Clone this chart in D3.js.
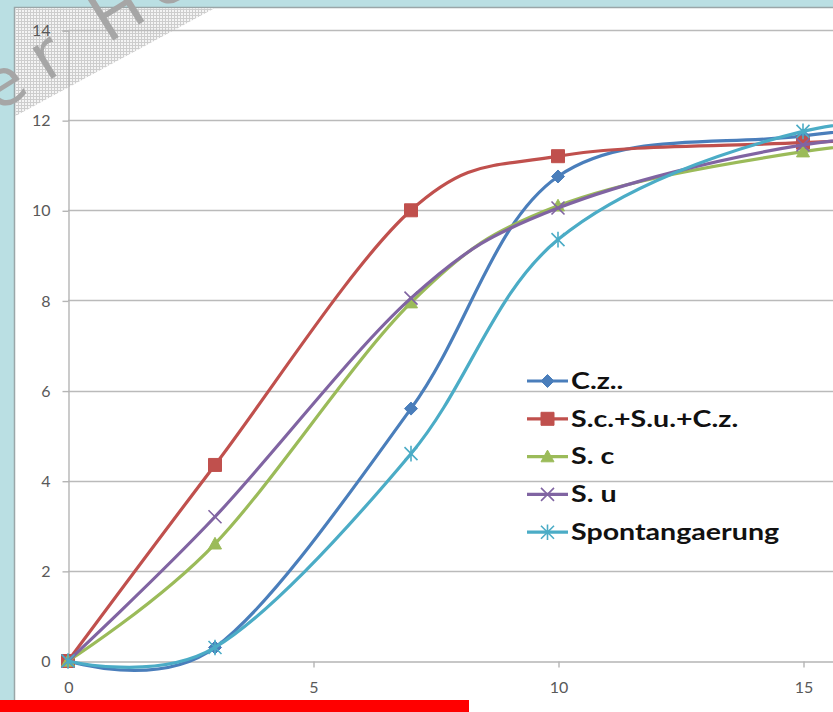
<!DOCTYPE html>
<html>
<head>
<meta charset="utf-8">
<script src="https://cdn.jsdelivr.net/npm/d3@7"></script>
<style>
  html, body { margin: 0; padding: 0; background: #badfe3; overflow: hidden; }
  svg { display: block; }
</style>
</head>
<body>
<svg id="chart" width="833" height="712"></svg>
<script>
// Fermentation time (days) and measured values per culture
const days = [0, 3, 7, 10, 15, 20];
const seriesNames = ["C.z..", "S.c.+S.u.+C.z.", "S. c", "S. u", "Spontangaerung"];
const czValues    = [0, 0.3, 5.6, 10.75, 11.65, 12.15];
const mixValues   = [0, 4.35, 10.0, 11.2, 11.5, 11.7];
const scValues    = [0, 2.6, 7.95, 10.1, 11.3, 11.75];
const suValues    = [0, 3.2, 8.05, 10.05, 11.45, 11.8];
const spontValues = [0, 0.3, 4.6, 9.35, 11.75, 12.05];
const yTicks = [0, 2, 4, 6, 8, 10, 12, 14];
const xTicks = [0, 5, 10, 15];

const seriesValues = [czValues, mixValues, scValues, suValues, spontValues];
const colors = ["#4a7ebb", "#c0504d", "#9bbb59", "#8064a2", "#4bacc6"];
const markers = ["diamond", "square", "triangle", "cross", "star"];

const svg = d3.select("#chart");
const W = 833, H = 712;
const labelFont = "Lato, 'Open Sans', sans-serif";

// white chart panel on the tinted page
svg.append("rect")
  .attr("x", 14.5).attr("y", 7.5)
  .attr("width", W).attr("height", H)
  .attr("fill", "#ffffff")
  .attr("stroke", "#9aa6a8").attr("stroke-width", 1.5);

// fine halftone fill in the upper-left corner
const defs = svg.append("defs");
const pat = defs.append("pattern")
  .attr("id", "mesh").attr("width", 3).attr("height", 3)
  .attr("patternUnits", "userSpaceOnUse");
pat.append("rect").attr("width", 3).attr("height", 3).attr("fill", "#f4f4f4");
pat.append("path").attr("d", "M0,0.5H3M0.5,0V3")
  .attr("stroke", "#cdcdcd").attr("stroke-width", 1);
svg.append("path")
  .attr("d", "M15.5,8.5L214,8.5L15.5,116Z")
  .attr("fill", "url(#mesh)");

const x = d3.scaleLinear().domain([0, 20]).range([68, 68 + 20 * 49]);
const y = d3.scaleLinear().domain([0, 14]).range([661, 30]);

// horizontal gridlines
svg.append("g").selectAll("line")
  .data(yTicks.filter(d => d > 0))
  .join("line")
  .attr("x1", x(0)).attr("x2", W)
  .attr("y1", d => Math.round(y(d)) + 0.5).attr("y2", d => Math.round(y(d)) + 0.5)
  .attr("stroke", "#bababa").attr("stroke-width", 1.4);

// y axis
const yAxis = d3.axisLeft(y).tickValues(yTicks).tickSize(6).tickPadding(12)
  .tickFormat(d3.format("d"));
const gy = svg.append("g")
  .attr("transform", `translate(${x(0) + 0.5},0.5)`)
  .call(yAxis);
gy.select(".domain").attr("stroke", "#b5b5b5").attr("stroke-width", 1.4);
gy.selectAll(".tick line").attr("stroke", "#b5b5b5").attr("stroke-width", 1.4);
gy.selectAll("text")
  .attr("fill", "#595959")
  .style("font-family", labelFont)
  .style("font-size", "16px");

// x axis
const xAxis = d3.axisBottom(x).tickValues(xTicks).tickSize(6).tickPadding(14)
  .tickFormat(d3.format("d"));
const gx = svg.append("g")
  .attr("transform", `translate(0.5,${Math.round(y(0)) + 0.5})`)
  .call(xAxis);
gx.select(".domain").attr("stroke", "#b5b5b5").attr("stroke-width", 1.4);
gx.selectAll(".tick line").attr("stroke", "#b5b5b5").attr("stroke-width", 1.4);
gx.selectAll("text")
  .attr("fill", "#595959")
  .style("font-family", labelFont)
  .style("font-size", "16px");

// marker shapes
function markerPath(kind, s) {
  const h = s / 2;
  switch (kind) {
    case "diamond":  return `M0,${-h}L${h},0L0,${h}L${-h},0Z`;
    case "square":   return `M${-h},${-h}H${h}V${h}H${-h}Z`;
    case "triangle": return `M0,${-h}L${h},${h * 0.8}L${-h},${h * 0.8}Z`;
    case "cross":    return `M${-h},${-h}L${h},${h}M${h},${-h}L${-h},${h}`;
    case "star":     return `M${-h},${-h}L${h},${h}M${h},${-h}L${-h},${h}M0,${-h * 1.2}V${h * 1.2}`;
  }
}
function drawMarker(g, kind, color, cx, cy) {
  const open = kind === "cross" || kind === "star";
  g.append("path")
    .attr("transform", `translate(${cx},${cy})`)
    .attr("d", markerPath(kind, 13))
    .attr("fill", open ? "none" : color)
    .attr("stroke", color)
    .attr("stroke-width", open ? 1.6 : 1);
}

const line = d3.line()
  .x(d => x(d[0]))
  .y(d => y(d[1]))
  .curve(d3.curveCardinal.tension(0));

const plot = svg.append("g");
seriesValues.forEach((vals, i) => {
  const pts = days.map((d, j) => [d, vals[j]]);
  const g = plot.append("g");
  g.append("path")
    .attr("d", line(pts))
    .attr("fill", "none")
    .attr("stroke", colors[i])
    .attr("stroke-width", 3.2)
    .attr("stroke-linejoin", "round");
  pts.forEach(p => drawMarker(g, markers[i], colors[i], x(p[0]), y(p[1])));
});

// legend
const legend = svg.append("g");
const legY0 = 381, legStep = 37.8;
seriesNames.forEach((name, i) => {
  const ly = legY0 + i * legStep;
  legend.append("line")
    .attr("x1", 527).attr("x2", 568).attr("y1", ly).attr("y2", ly)
    .attr("stroke", colors[i]).attr("stroke-width", 3.2);
  drawMarker(legend, markers[i], colors[i], 547.5, ly);
  legend.append("g")
    .attr("transform", `translate(571,${ly}) scale(1.3,1)`)
    .append("text")
    .attr("dy", "0.35em")
    .attr("fill", "#111111")
    .style("font-family", labelFont)
    .style("font-weight", "700")
    .style("font-size", "22px")
    .text(name);
});

// watermark lettering across the corner
const wm = svg.append("g")
  .attr("transform", "translate(50,80) rotate(-32)")
  .attr("fill", "#a6a6a6")
  .style("font-family", "'DejaVu Sans', sans-serif")
  .style("font-size", "66px")
  .style("letter-spacing", "12px");
wm.append("text").attr("text-anchor", "end").attr("x", -10).text("Pete");
wm.append("text").attr("text-anchor", "start").attr("x", -4).text("r He");

// red strip along the bottom edge
svg.append("rect")
  .attr("x", 0).attr("y", 700)
  .attr("width", 469).attr("height", 12)
  .attr("fill", "#ff0000");
</script>
</body>
</html>
